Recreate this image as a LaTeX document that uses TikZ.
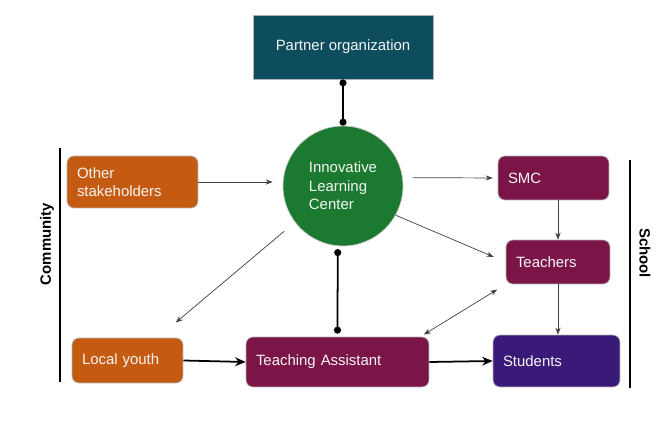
\documentclass[tikz,border=0pt]{standalone}
\usepackage{fontspec}
\setmainfont{Liberation Sans}
\usetikzlibrary{arrows.meta}
\definecolor{partnerteal}{HTML}{0E4D5D}
\definecolor{commorange}{HTML}{C55A11}
\definecolor{schoolred}{HTML}{7B1547}
\definecolor{studentpurple}{HTML}{3A1A78}
\definecolor{ilcgreen}{HTML}{1B7A2F}
\tikzset{
  box/.style={draw=gray!60, rounded corners=4pt, text=white!92!gray, inner xsep=0.2cm, align=left, font=\fontsize{8.5}{10.5}\selectfont},
  thinarrow/.style={-{Stealth[length=4pt,width=3pt]}, line width=0.4pt, black!75},
  thickarrow/.style={-{Stealth[length=6pt,width=5pt]}, line width=1pt},
  dotlink/.style={{Circle[length=4pt]}-{Circle[length=4pt]}, line width=1pt},
  side/.style={font=\fontsize{8.5}{10}\selectfont\bfseries}
}
\begin{document}
\begin{tikzpicture}[x=0.02cm,y=-0.02cm]
  \useasboundingbox (0,0) rectangle (667,422);
  % Nodes
  \node[draw=gray!60, fill=partnerteal, text=white!92!gray, minimum width=3.6cm, minimum height=1.28cm, font=\fontsize{8.5}{10.5}\selectfont] (partner) at (343,47) {Partner organization};
  \node[circle, fill=ilcgreen, draw=gray!40, minimum size=2.4cm, text=white!92!gray, align=left, font=\fontsize{8.5}{10.5}\selectfont] (ilc) at (343,186) {Innovative\\Learning\\Center};
  \node[box, fill=commorange, text width=2.22cm, minimum height=1.04cm] (others) at (132.5,182) {Other\\stakeholders};
  \node[box, fill=commorange, text width=1.82cm, minimum height=0.9cm] (youth) at (127.5,360.5) {Local youth};
  \node[box, fill=schoolred, text width=3.26cm, minimum height=1cm] (ta) at (337.5,362) {Teaching Assistant};
  \node[box, fill=schoolred, text width=1.82cm, minimum height=0.88cm] (smc) at (553.5,178) {SMC};
  \node[box, fill=schoolred, text width=1.68cm, minimum height=0.88cm] (teachers) at (558,262) {Teachers};
  \node[box, fill=studentpurple, text width=2.14cm, minimum height=1.04cm] (students) at (556.5,361) {Students};
  % Links
  \draw[dotlink] (partner.south) -- (ilc.north);
  \draw[dotlink, shorten <=0.06cm, shorten >=0.06cm] (ilc.265) -- (ta.north);
  \draw[thinarrow, shorten >=0.2cm] (others.east) -- (others.east -| ilc.west);
  \draw[thinarrow, shorten <=0.2cm, shorten >=0.1cm] (ilc.8) -- (smc.west);
  \draw[thinarrow, shorten >=0.26cm] (ilc.-29) -- (teachers.west);
  \draw[thinarrow, shorten <=0.28cm, shorten >=0.47cm] (ilc.217) -- (youth.37);
  \draw[thinarrow, {Stealth[length=4pt,width=3pt]}-{Stealth[length=4pt,width=3pt]}, shorten <=0.2cm, shorten >=0.08cm] (teachers.south west) -- (ta.17);
  \draw[thinarrow] (teachers.north |- smc.south) -- (teachers.north);
  \draw[thinarrow] (teachers.south) -- (teachers.south |- students.north);
  \draw[thickarrow] (youth.east) -- (ta.west);
  \draw[thickarrow] (ta.east) -- (students.west);
  % Sides
  \coordinate (ctop) at (60,148);
  \coordinate (cbot) at (60,382);
  \draw[line width=0.8pt] (ctop) -- (cbot);
  \node[side, rotate=90] (community) at (47,244) {Community};
  \coordinate (stop) at (630,160);
  \coordinate (sbot) at (630,388);
  \draw[line width=0.8pt] (stop) -- (sbot);
  \node[side, rotate=-90] (school) at (645,253) {School};
\end{tikzpicture}
\end{document}
